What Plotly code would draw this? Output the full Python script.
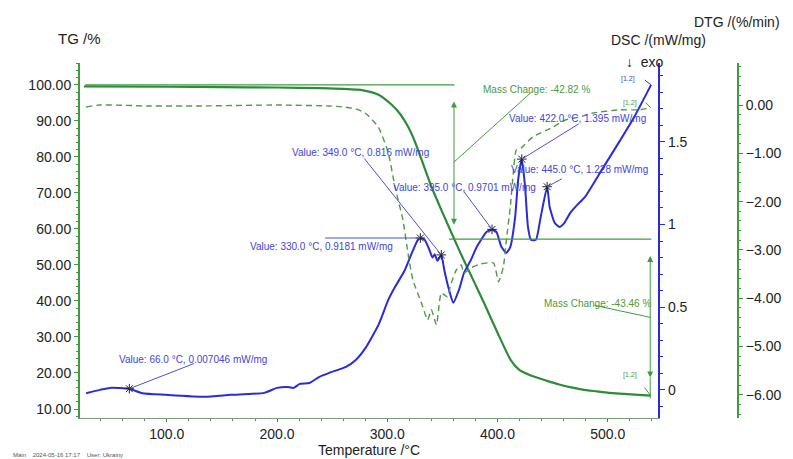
import plotly.graph_objects as go

# ---------------- data ----------------
# TG curve (temperature in °C, mass in %)
temp_tg = [25, 100, 150, 200, 240, 260, 278, 292, 304, 312, 319, 325, 331, 340,
           349, 361, 369, 378, 388, 400, 412, 420, 428, 435, 445, 456, 467, 477,
           490, 501, 515, 528, 539]
tg = [99.6, 99.5, 99.4, 99.3, 99.1, 98.9, 98.5, 97.3, 94.5, 91.8, 88.3, 84.3,
      79.3, 71.8, 65.3, 57.0, 51.6, 45.8, 39.3, 31.2, 23.6, 20.8, 19.6, 18.8,
      17.8, 16.8, 16.0, 15.4, 14.9, 14.5, 14.2, 13.9, 13.7]

# DTG curve (%/min)
temp_dtg = [26.8, 39, 84, 128.5, 200, 247, 260, 271.4, 280.3, 292, 300.9, 307,
            314.2, 318.7, 323.2, 331, 336.6, 340, 344.6, 349, 354.4, 358, 362.5,
            367, 369.6, 375.9, 384.8, 396.4, 400.9, 405.3, 408, 411.6, 414.3,
            417, 421.4, 432, 450, 461.6, 474, 485.7, 509.8, 527.7, 539]
dtg = [-0.04, 0.0, -0.02, -0.02, 0.0, -0.02, -0.04, -0.08, -0.17, -0.46, -0.99,
       -1.70, -2.38, -3.06, -3.62, -4.10, -4.45, -4.24, -4.55, -3.89, -3.97,
       -3.69, -3.42, -3.31, -3.48, -3.37, -3.29, -3.27, -3.66, -3.35, -2.80,
       -2.11, -1.41, -0.93, -0.89, -0.66, -0.46, -0.31, -0.25, -0.17, -0.10,
       -0.10, -0.06]

# DSC curve (mW/mg)
temp_dsc = [26.8, 39.3, 48.2, 66, 77.7, 99.1, 134.8, 158, 188.4, 200, 208.9,
            215.1, 220.5, 229.4, 238.4, 247.3, 262.5, 271.4, 280.3, 292, 300.9,
            307.1, 316, 322.3, 327.7, 330, 333.9, 338, 341, 343, 345.5, 349,
            351.7, 356, 359.8, 365, 369.6, 375.9, 381.2, 390, 395, 399, 403.5,
            408, 411.6, 416, 418.7, 422, 425, 427.6, 430.3, 434.8, 439.2, 445,
            447.3, 451.8, 456.2, 460.7, 466, 472.3, 479.4, 494.6, 509.8, 524,
            539.3]
dsc = [-0.02, 0.0, 0.012, 0.007046, -0.02, -0.03, -0.042, -0.03, -0.018, 0.012,
       0.018, 0.012, 0.036, 0.042, 0.079, 0.103, 0.139, 0.181, 0.254, 0.393,
       0.544, 0.623, 0.725, 0.828, 0.907, 0.9181, 0.907, 0.85, 0.80, 0.82, 0.78,
       0.816, 0.725, 0.605, 0.526, 0.605, 0.707, 0.786, 0.865, 0.955, 0.9701,
       0.955, 0.865, 0.828, 0.865, 1.046, 1.27, 1.395, 1.227, 0.985, 0.907,
       0.907, 1.046, 1.228, 1.106, 1.01, 0.985, 1.01, 1.07, 1.118, 1.167, 1.33,
       1.493, 1.65, 1.844]

# Marked DSC peaks
peak_temps = [66.0, 330.0, 349.0, 395.0, 422.0, 445.0]
peak_dsc = [0.007046, 0.9181, 0.816, 0.9701, 1.395, 1.228]

# Mass change steps
tg_initial = 100.0
mass_changes = [-42.82, -43.46]
step_temps = [360.5, 538.5]

# ---------------- layout geometry ----------------
W, H = 793, 459
L, R, T, B = 80, 46, 63, 41          # plot margins in px
plot_right = 666                       # right edge of the temperature axis
PW, PH = W - L - R, H - T - B
x_dom_end = (plot_right - L) / PW

x_rng = [21.25, 545.65]
tg_rng = [7.5, 106.1]
dsc_rng = [-0.17, 1.976]
dtg_rng = [-6.48, 0.87]

FONT = "Liberation Sans, Arial, sans-serif"
BLUE = "#2b2bd8"
BLUE_TXT = "#4444d6"
GREEN = "#2e8c38"
GREEN_DASH = "#4f9a45"
GREEN_TXT = "#4d9a3c"
GREEN_AX = "#3f9c3f"


def px_x(px):
    return (px - L) / PW


def px_y(py):
    return (H - B - py) / PH


def ax_x(px):
    return x_rng[0] + (px - L) / (plot_right - L) * (x_rng[1] - x_rng[0])


def ax_y(py, rng):
    return rng[0] + (H - B - py) / PH * (rng[1] - rng[0])


fig = go.Figure()

fig.add_trace(go.Scatter(x=temp_tg, y=tg, mode="lines", yaxis="y",
                         line=dict(color=GREEN, width=2.2, shape="spline",
                                   smoothing=0.6),
                         hoverinfo="skip", showlegend=False))
fig.add_trace(go.Scatter(x=temp_dtg, y=dtg, mode="lines", yaxis="y3",
                         line=dict(color=GREEN_DASH, width=1.4, dash="6px,4px",
                                   shape="spline", smoothing=0.5),
                         hoverinfo="skip", showlegend=False))
fig.add_trace(go.Scatter(x=temp_dsc, y=dsc, mode="lines", yaxis="y2",
                         line=dict(color=BLUE, width=2, shape="spline",
                                   smoothing=0.5),
                         hoverinfo="skip", showlegend=False))
fig.add_trace(go.Scatter(x=peak_temps, y=peak_dsc, mode="markers", yaxis="y2",
                         marker=dict(symbol="asterisk-open", size=8,
                                     color="#222222",
                                     line=dict(color="#222222", width=1)),
                         hoverinfo="skip", showlegend=False))

annotations = []
shapes = []

# ---- peak labels with leader lines ----
label_px = [(118, 359), (250, 246), (293, 152), (395, 187), (513, 118), (515, 169)]
leader_px = [(197, 363), (327, 238), (367, 157), (468, 190), (587, 123), (570, 178)]
for t, v, (lx, ly), (qx, qy) in zip(peak_temps, peak_dsc, label_px, leader_px):
    annotations.append(dict(
        x=px_x(lx), y=px_y(ly), xref="paper", yref="paper",
        xanchor="left", yanchor="middle", showarrow=False,
        text=f"Value: {t:.1f} °C, {v} mW/mg",
        font=dict(family=FONT, size=10, color=BLUE_TXT)))
    annotations.append(dict(
        x=t, y=v, xref="x", yref="y2", text="", showarrow=True,
        ax=ax_x(qx), ay=ax_y(qy, dsc_rng), axref="x", ayref="y2",
        arrowhead=0, arrowwidth=1, arrowcolor="#5050d0"))

# ---- mass change steps ----
levels = [tg_initial]
for mc in mass_changes:
    levels.append(round(levels[-1] + mc, 2))

seg_spans = [(26.0, 361.0), (356.0, 539.5)]
for (x0, x1), lvl in zip(seg_spans, levels[:-1]):
    shapes.append(dict(type="line", xref="x", yref="y", x0=x0, x1=x1,
                       y0=lvl, y1=lvl, line=dict(color=GREEN_AX, width=1.3)))

arrow_spans = [(levels[0] - 4.2, levels[1] + 4.0), (levels[1] - 4.3, levels[2] + 5.0)]
mc_label_px = [(486, 89), (548, 303)]
mc_leader_px = [(540, 90), (600, 305)]
for i, (ts, mc) in enumerate(zip(step_temps, mass_changes)):
    top, bot = arrow_spans[i]
    annotations.append(dict(
        x=ts, y=bot, xref="x", yref="y", ax=ts, ay=top, axref="x", ayref="y",
        text="", showarrow=True, arrowhead=2, arrowside="end+start",
        arrowsize=1.2, arrowwidth=1, arrowcolor=GREEN_AX))
    mid = (levels[i] + levels[i + 1]) / 2
    lx, ly = mc_label_px[i]
    qx, qy = mc_leader_px[i]
    annotations.append(dict(
        x=px_x(lx), y=px_y(ly), xref="paper", yref="paper",
        xanchor="left", yanchor="middle", showarrow=False,
        text=f"Mass Change: {mc:.2f} %",
        font=dict(family=FONT, size=10, color=GREEN_TXT)))
    annotations.append(dict(
        x=ts, y=mid, xref="x", yref="y", text="", showarrow=True,
        ax=ax_x(qx), ay=ax_y(qy, tg_rng), axref="x", ayref="y",
        arrowhead=0, arrowwidth=1, arrowcolor=GREEN_AX))

# lower end of the second step arrow down to the final level
shapes.append(dict(type="line", xref="x", yref="y", x0=step_temps[1],
                   x1=step_temps[1], y0=levels[2] + 5.0, y1=levels[2] - 0.8,
                   line=dict(color=GREEN_AX, width=1)))

# ---- curve end tags ----
end_tags = [(645, 73, BLUE_TXT), (647, 97, GREEN_TXT), (647, 381, GREEN_TXT)]
for tx, ty, c in end_tags:
    annotations.append(dict(
        x=px_x(tx), y=px_y(ty), xref="paper", yref="paper", showarrow=False,
        text="[1.2]", font=dict(family=FONT, size=7, color=c)))
annotations.append(dict(x=temp_dsc[-1], y=dsc[-1], xref="x", yref="y2",
                        ax=ax_x(651), ay=ax_y(79, dsc_rng), axref="x", ayref="y2",
                        text="", showarrow=True, arrowhead=0, arrowwidth=1,
                        arrowcolor=BLUE))
annotations.append(dict(x=temp_dtg[-1], y=dtg[-1], xref="x", yref="y3",
                        ax=ax_x(652), ay=ax_y(101, dtg_rng), axref="x", ayref="y3",
                        text="", showarrow=True, arrowhead=0, arrowwidth=1,
                        arrowcolor=GREEN_AX))
annotations.append(dict(x=temp_tg[-1], y=tg[-1], xref="x", yref="y",
                        ax=ax_x(651), ay=ax_y(386, tg_rng), axref="x", ayref="y",
                        text="", showarrow=True, arrowhead=0, arrowwidth=1,
                        arrowcolor=GREEN_AX))

# ---- axis titles ----
titles = [
    ("TG /%", 79, 38, "center", 15),
    ("DSC /(mW/mg)", 666, 40, "center", 14),
    ("DTG /(%/min)", 746, 22, "center", 14),
    ("Temperature /°C", 373, 450, "center", 14),
]
for txt, tx, ty, anc, sz in titles:
    annotations.append(dict(x=px_x(tx), y=px_y(ty), xref="paper", yref="paper",
                            xanchor=anc, yanchor="middle", showarrow=False,
                            text=txt, font=dict(family=FONT, size=sz, color="#222222")))
annotations.append(dict(x=px_x(674), y=px_y(62), xref="paper", yref="paper",
                        xanchor="right", yanchor="middle", showarrow=False,
                        text="↓  exo", font=dict(family=FONT, size=14, color="#222222")))
annotations.append(dict(x=px_x(10), y=px_y(455), xref="paper", yref="paper",
                        xanchor="left", yanchor="middle", showarrow=False,
                        text="Main    2024-05-16 17:17    User: Ukrainy",
                        font=dict(family=FONT, size=6, color="#555555")))

tick_font = dict(family=FONT, size=14, color="#222222")

fig.update_layout(
    width=W, height=H,
    margin=dict(l=L, r=R, t=T, b=B, pad=0),
    paper_bgcolor="white", plot_bgcolor="white",
    showlegend=False,
    xaxis=dict(domain=[0, x_dom_end], range=x_rng, showgrid=False,
               zeroline=False, showline=True, linecolor="#7aa27a", linewidth=1.2,
               ticks="outside", ticklen=3, tickcolor="#666666",
               tickvals=[100, 200, 300, 400, 500], tickformat=".1f",
               tickfont=tick_font,
               minor=dict(ticks="outside", ticklen=2, dtick=20, tick0=0,
                          tickcolor="#777777")),
    yaxis=dict(range=tg_rng, showgrid=False, zeroline=False, showline=True,
               linecolor=GREEN_AX, linewidth=2, ticks="outside", ticklen=4,
               tickcolor=GREEN_AX, dtick=10, tick0=0, tickformat=".2f",
               tickfont=tick_font,
               minor=dict(ticks="outside", ticklen=2, dtick=2,
                          tickcolor=GREEN_AX)),
    yaxis2=dict(range=dsc_rng, overlaying="y", side="right", anchor="x",
                showgrid=False, zeroline=False, showline=True, linecolor=BLUE,
                linewidth=2, ticks="outside", ticklen=5, tickcolor=BLUE,
                tickvals=[0, 0.5, 1, 1.5], ticktext=["0", "0.5", "1", "1.5"],
                tickfont=tick_font,
                minor=dict(ticks="outside", ticklen=3, dtick=0.1, tick0=0,
                           tickcolor=BLUE)),
    yaxis3=dict(range=dtg_rng, overlaying="y", side="right", anchor="free",
                position=1.0, showgrid=False, zeroline=False, showline=True,
                linecolor=GREEN_AX, linewidth=2, ticks="outside", ticklen=4,
                tickcolor=GREEN_AX, dtick=1, tick0=0, tickformat=".2f",
                tickfont=tick_font,
                minor=dict(ticks="outside", ticklen=2, dtick=0.2, tick0=0,
                           tickcolor=GREEN_AX)),
    annotations=annotations,
    shapes=shapes,
)

fig.write_html("out.html")
